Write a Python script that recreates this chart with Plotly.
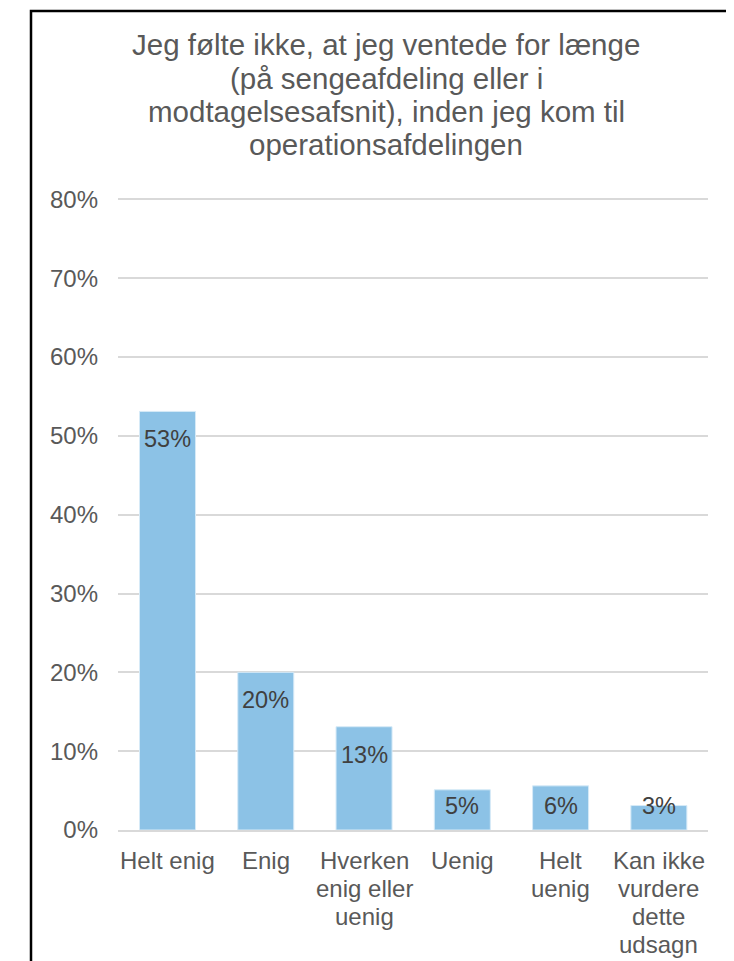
import plotly.graph_objects as go

categories = ["Helt enig", "Enig", "Hverken enig eller uenig", "Uenig", "Helt uenig", "Kan ikke vurdere dette udsagn"]
tick_labels = ["Helt enig", "Enig", "Hverken<br>enig eller<br>uenig", "Uenig", "Helt<br>uenig", "Kan ikke<br>vurdere<br>dette<br>udsagn"]
values = [0.531, 0.200, 0.131, 0.051, 0.056, 0.031]
title_lines = [
    "Jeg følte ikke, at jeg ventede for længe",
    "(på sengeafdeling eller i",
    "modtagelsesafsnit), inden jeg kom til",
    "operationsafdelingen",
]

W, H = 734, 961
PX_PER_UNIT = 631 / 0.8
ytop = 0.803
B = 139
L, R = 110, 34
ph = round(ytop * PX_PER_UNIT)
T = H - B - ph
pw = W - L - R

def px_x(x):
    return (x - L) / pw

def px_y(y):
    return (H - B - y) / ph

font = "Liberation Sans, Arial, sans-serif"

fig = go.Figure()
fig.add_trace(go.Bar(
    x=categories, y=values,
    marker=dict(color="#8CC2E6", line=dict(color="#D6EAF7", width=1)),
    hoverinfo="skip",
))

# data labels (inside end, clamped above the baseline)
off_top = 28 / PX_PER_UNIT
min_y = 24 / PX_PER_UNIT
for c, v in zip(categories, values):
    fig.add_annotation(
        x=c, y=max(v - off_top, min_y), xref="x", yref="y",
        text=f"{v:.0%}", showarrow=False, yanchor="middle",
        font=dict(family=font, size=23.5, color="#404040"),
    )

# category labels (one annotation per wrapped line, Excel-like line spacing)
for c, lab in zip(categories, tick_labels):
    for j, part in enumerate(lab.split("<br>")):
        fig.add_annotation(
            x=c, y=px_y(852 + 28 * j), xref="x", yref="paper",
            text=part, showarrow=False, xanchor="center", yanchor="middle",
            font=dict(family=font, size=24, color="#595959"),
        )

# title lines
for i, line in enumerate(title_lines):
    fig.add_annotation(
        x=px_x(378), y=px_y(37 + 33 * i), xref="paper", yref="paper",
        text=line, showarrow=False, xanchor="center", yanchor="middle",
        font=dict(family=font, size=29.5, color="#595959"),
    )

# chart border
fig.add_shape(
    type="rect", xref="paper", yref="paper",
    x0=px_x(23), x1=px_x(728), y0=px_y(975), y1=px_y(3),
    line=dict(color="black", width=2.5), fillcolor="rgba(0,0,0,0)", layer="above",
)

fig.update_layout(
    width=W, height=H,
    margin=dict(l=L, r=R, t=T, b=B, autoexpand=False),
    paper_bgcolor="white", plot_bgcolor="white",
    bargap=0.43, showlegend=False,
    font=dict(family=font, size=24, color="#595959"),
)
fig.update_xaxes(
    showticklabels=False,
    showgrid=False, showline=True, linecolor="#D9D9D9", linewidth=1.5,
    ticks="", fixedrange=True,
)
fig.update_yaxes(
    range=[0, ytop], tickvals=[i / 10 for i in range(9)], tickformat=".0%",
    showgrid=True, gridcolor="#D9D9D9", gridwidth=1.5,
    zeroline=False, showline=False, ticks="",
    ticklabelstandoff=19,
    tickfont=dict(family=font, size=24, color="#595959"),
    fixedrange=True,
)

fig.write_html("out.html")
